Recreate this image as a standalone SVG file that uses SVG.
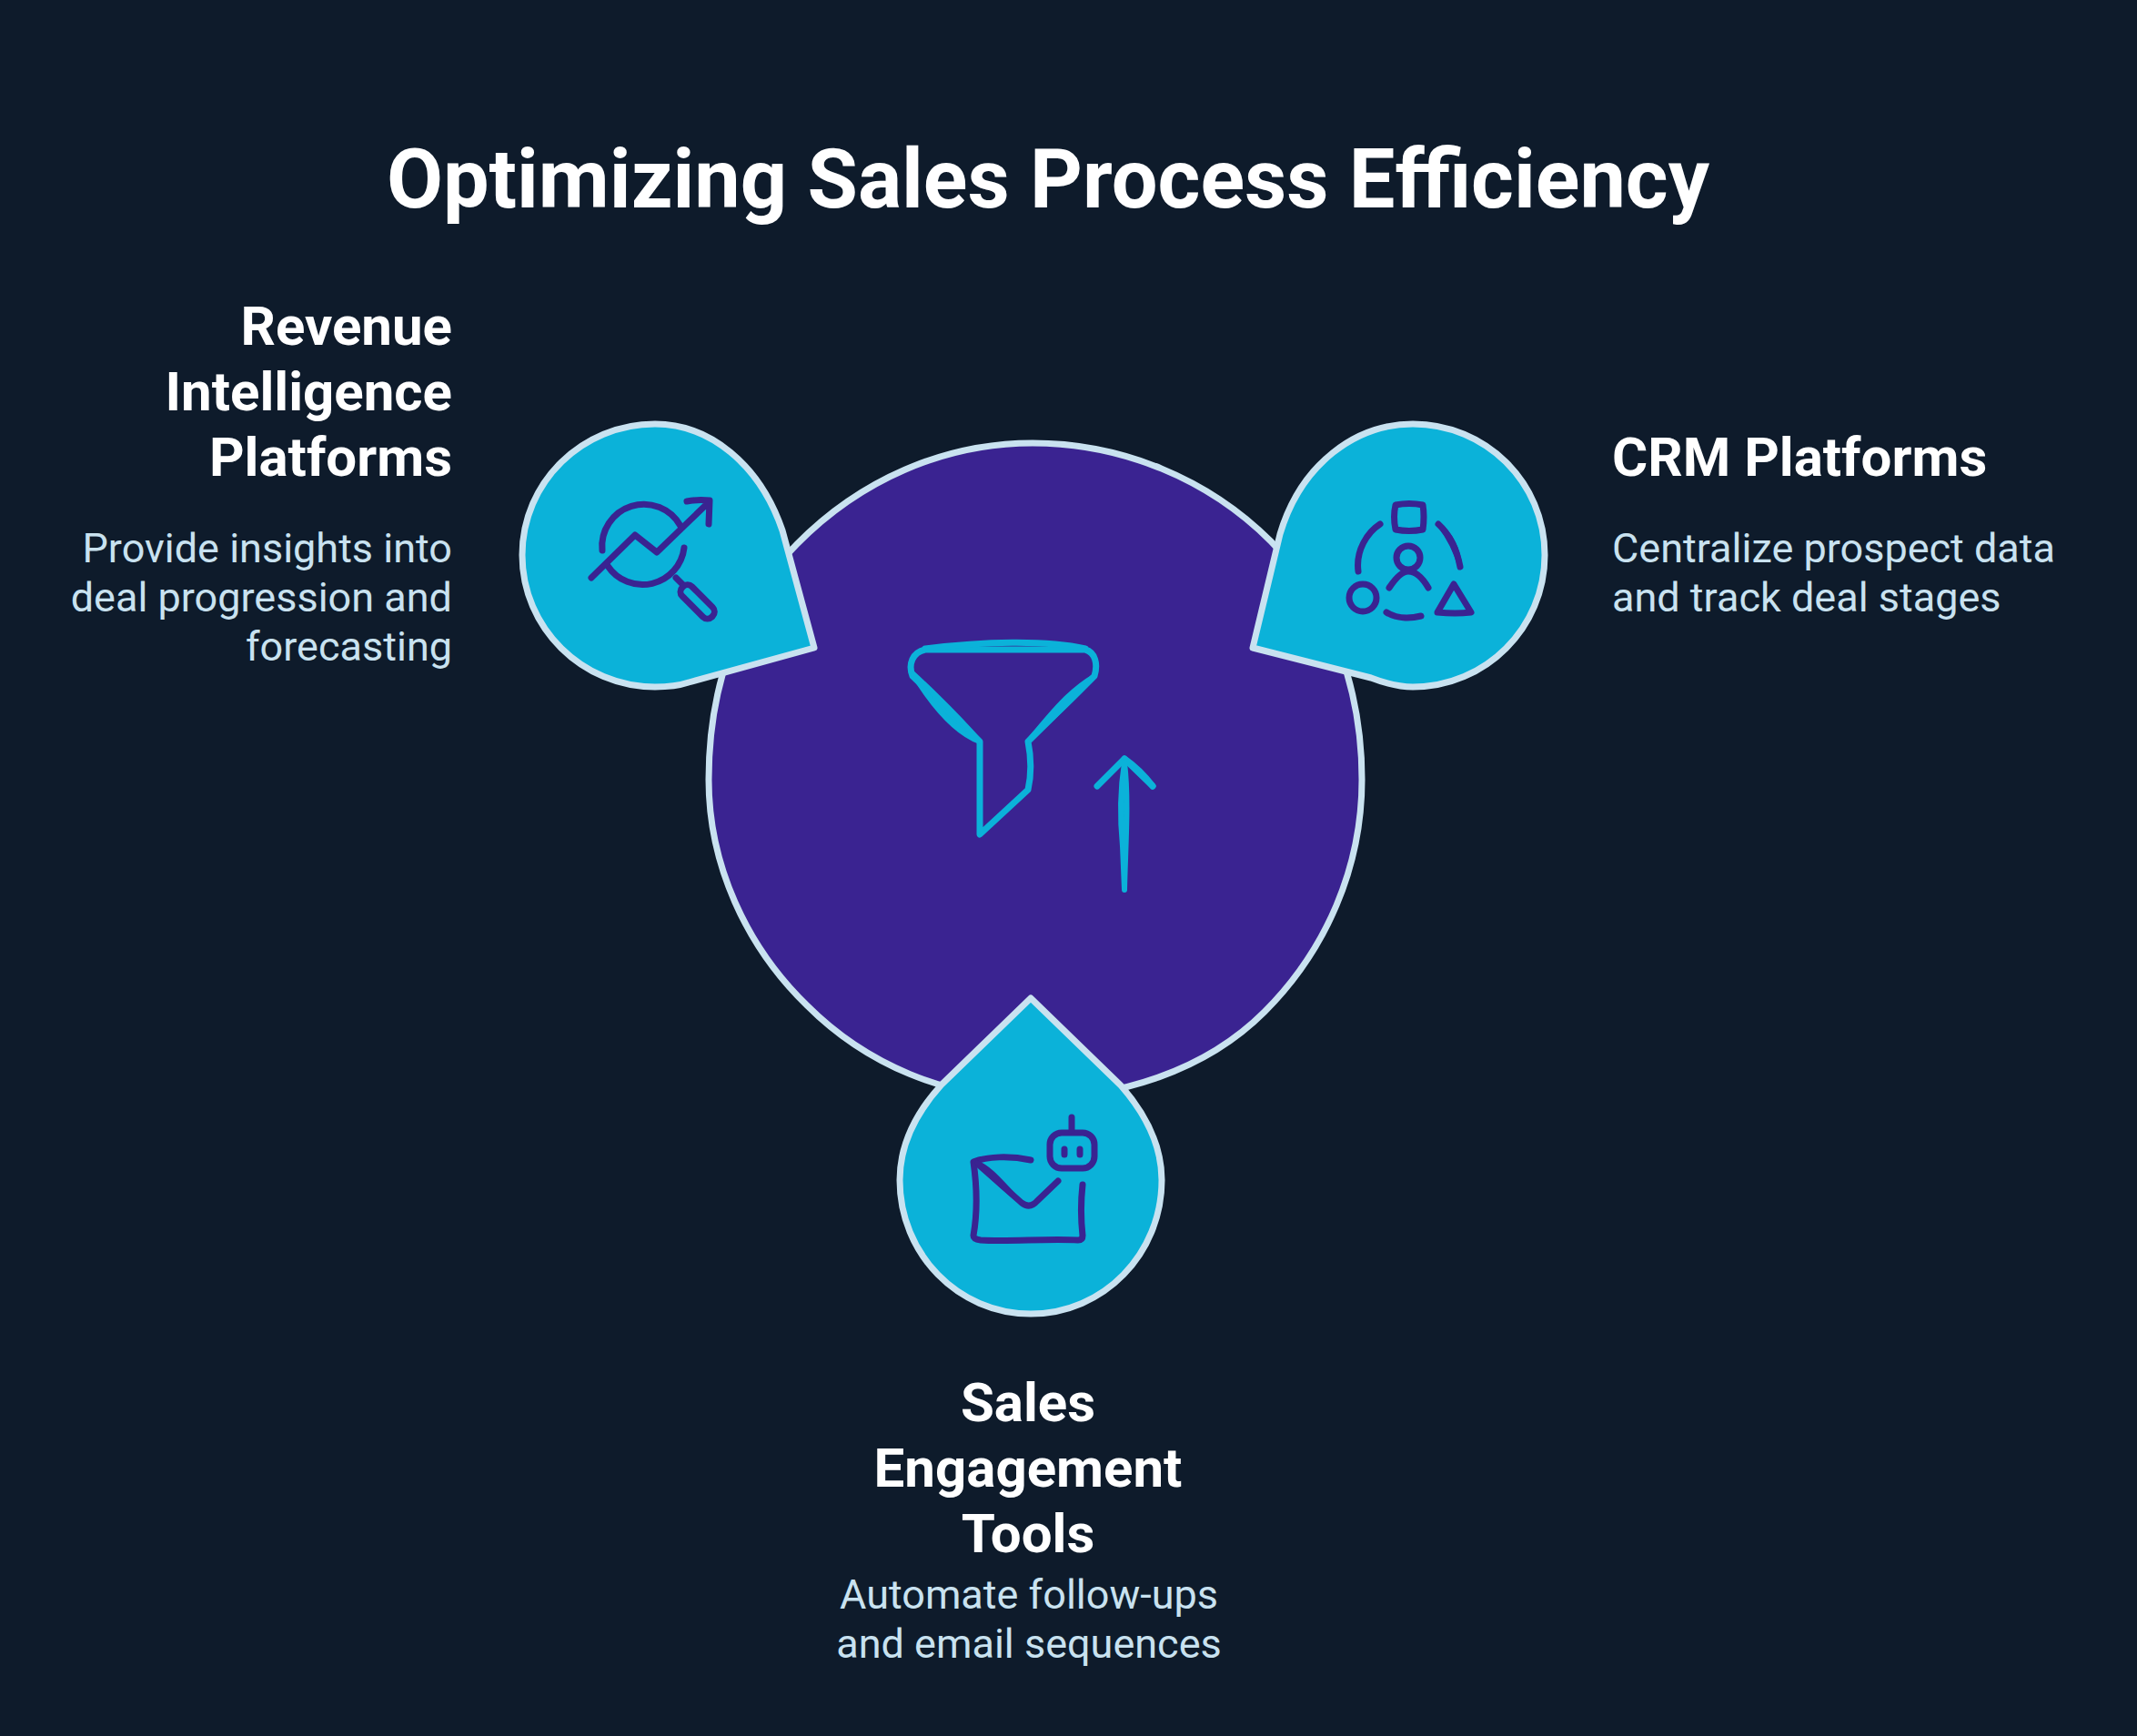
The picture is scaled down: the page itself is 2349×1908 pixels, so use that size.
<svg xmlns="http://www.w3.org/2000/svg" width="2349" height="1908" viewBox="0 0 2349 1908">
<style>
text{font-family:Roboto,"Liberation Sans",sans-serif}
.t{font-size:90px;font-weight:700;fill:#fff;text-anchor:middle}
.h{font-size:60px;font-weight:700;fill:#fff}
.b{font-size:45px;fill:#c9e2f0}
.e{text-anchor:end}.m{text-anchor:middle}
.drop{fill:#0bb2d9;stroke:#c9e2f0;stroke-width:7;stroke-linejoin:round}
.ic{fill:none;stroke:#3a2391;stroke-width:7;stroke-linecap:round;stroke-linejoin:round}
.icf{fill:#3a2391;stroke:#3a2391;stroke-width:5;stroke-linecap:round;stroke-linejoin:round}
.fn{fill:none;stroke:#0bb2d9;stroke-width:7;stroke-linecap:round;stroke-linejoin:round}
.fnf{fill:#0bb2d9;stroke:#0bb2d9;stroke-width:6;stroke-linecap:round;stroke-linejoin:round}
</style>
<rect width="2349" height="1908" fill="#0e1b2b"/>
<text class="t" x="1152" y="228">Optimizing Sales Process Efficiency</text>
<g id="center">
<path d="M1135 487C1233 487 1328 526 1397 595C1465 664 1497 760 1497 857C1497 953 1458 1044 1390 1112C1325 1177 1230 1207 1135 1207C1040 1207 952 1170 887 1105C820 1040 779 950 779 857C779 760 808 666 876 598C945 528 1037 487 1135 487Z" fill="#3a2391" stroke="#c9e2f0" stroke-width="7"/>
<path class="fn" d="M1017 714H1193C1204 717 1207 730 1203 743L1130 815C1134 835 1134 850 1130 868L1077 917V815L1003 743C998 730 1003 717 1017 714Z"/>
<path class="fn" d="M1017 713C1080 705 1150 703 1193 713"/>
<path class="fnf" d="M1004 741C1025 775 1050 805 1077 815C1055 790 1030 765 1004 741Z"/>
<path class="fnf" d="M1202 744C1175 760 1155 785 1131 814C1155 790 1180 768 1202 744Z"/>
<path class="fn" d="M1206 864L1236 834L1267 864"/>
<path class="fn" d="M1236 834C1252 845 1260 855 1267 864"/>
<path class="fnf" d="M1236 838C1231 870 1231 900 1234 930L1236 978C1237 930 1241 880 1236 838Z"/>
</g>
<g id="revenue">
<path class="drop" d="M895 712L860 583C835 510 780 466 720 466C640 466 574 530 574 610C574 690 640 755 720 755C735 755 748 753 757 750Z"/>
<path class="ic" d="M662 605A46 46 0 0 1 748 578M752 602A46 46 0 0 1 668 622"/>
<path class="ic" d="M650 635L698 588L722 607L778 553M755 551C765 549 772 549 780 550L779 576M743 635L750 642"/>
<rect class="ic" x="-23" y="-7" width="46" height="15" rx="7" transform="translate(767 661) rotate(45)"/>
</g>
<g id="crm">
<path class="drop" d="M1377 712L1407 587C1430 510 1490 466 1553 466C1633 466 1698 530 1698 610C1698 690 1633 755 1553 755C1535 755 1520 750 1507 745Z"/>
<path class="ic" d="M1534 555Q1549 552 1564 555Q1566 568 1564 582Q1549 585 1534 582Q1531 568 1534 555Z"/>
<path class="ic" d="M1517 576C1503 585 1490 605 1493 628M1524 673C1535 680 1550 680 1562 677"/>
<path class="ic" d="M1581 576C1593 587 1601 602 1605 623"/>
<path class="icf" d="M1582 577C1592 590 1600 605 1605 623C1603 605 1595 588 1582 577Z"/>
<circle class="ic" cx="1548" cy="613" r="13"/>
<path class="ic" d="M1527 646C1535 634 1542 628 1548 628C1556 628 1563 634 1570 646"/>
<circle class="ic" cx="1498" cy="657" r="15"/>
<path class="ic" d="M1598 642L1617 673Q1600 675 1580 673Z"/>
</g>
<g id="sales">
<path class="drop" d="M1133 1097L1035 1192C1005 1225 989 1260 989 1297C989 1378 1053 1444 1133 1444C1213 1444 1277 1378 1277 1297C1277 1260 1260 1225 1232 1193Z"/>
<path class="ic" d="M1133 1275C1110 1270 1085 1271 1070 1277C1074 1305 1074 1335 1070 1358Q1070 1362 1078 1363C1110 1365 1150 1361 1185 1363Q1190 1363 1190 1358C1188 1340 1188 1320 1190 1302"/>
<path class="ic" d="M1072 1277L1123 1322Q1132 1329 1140 1320L1163 1298"/>
<path class="icf" d="M1074 1278C1090 1284 1105 1305 1123 1322C1105 1308 1088 1292 1074 1278Z"/>
<rect class="ic" x="1154" y="1245" width="49" height="39" rx="13"/>
<path class="ic" d="M1178 1228V1242M1170 1263V1269M1187 1263V1269"/>
</g>
<text class="h e" x="497" y="379">Revenue</text>
<text class="h e" x="497" y="451">Intelligence</text>
<text class="h e" x="497" y="523">Platforms</text>
<text class="b e" x="497" y="618">Provide insights into</text>
<text class="b e" x="497" y="672">deal progression and</text>
<text class="b e" x="497" y="726">forecasting</text>
<text class="h" x="1772" y="523">CRM Platforms</text>
<text class="b" x="1772" y="618">Centralize prospect data</text>
<text class="b" x="1772" y="672">and track deal stages</text>
<text class="h m" x="1130" y="1562">Sales</text>
<text class="h m" x="1130" y="1634">Engagement</text>
<text class="h m" x="1130" y="1706">Tools</text>
<text class="b m" x="1131" y="1768">Automate follow-ups</text>
<text class="b m" x="1131" y="1822">and email sequences</text>
</svg>
